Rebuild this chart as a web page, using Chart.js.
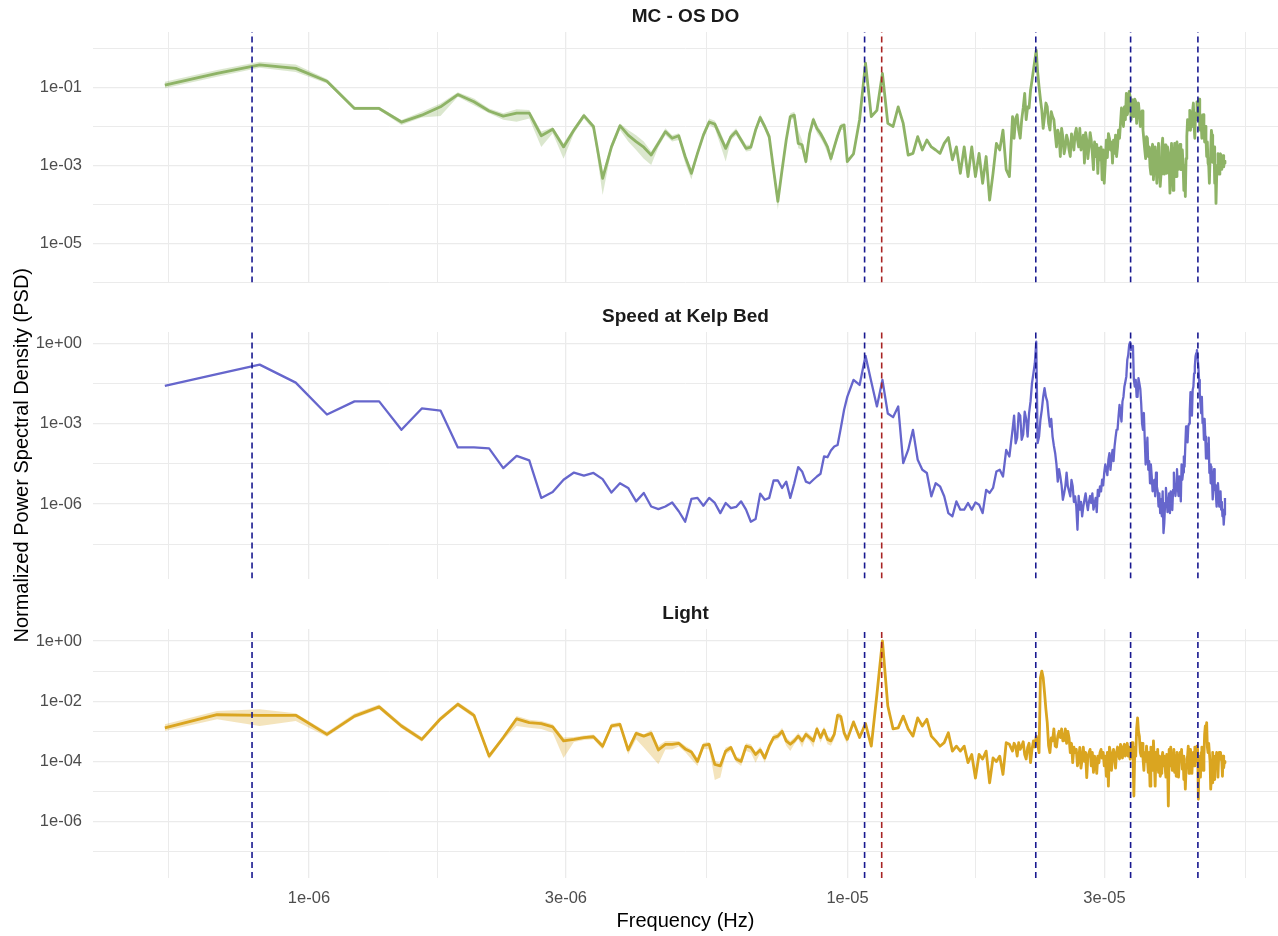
<!DOCTYPE html>
<html>
<head>
<meta charset="utf-8">
<title>Normalized PSD</title>
<script src="https://cdn.jsdelivr.net/npm/chart.js@4.4.1/dist/chart.umd.min.js"></script>
<style>
  html, body { margin: 0; padding: 0; background: #fff; }
  #wrap { position: relative; width: 1278px; height: 936px; }
  #wrap canvas { position: absolute; left: 0; top: 0; }
</style>
</head>
<body>
<div id="wrap">
  <canvas id="psd1" width="1278" height="936"></canvas>
  <canvas id="psd2" width="1278" height="936"></canvas>
  <canvas id="psd3" width="1278" height="936"></canvas>
</div>
<script>
"use strict";

// frequency grid shared by the three spectra (Hz)
const freq = [
  0.54e-6, 0.675e-6, 0.81e-6, 0.945e-6, 1.08e-6, 1.215e-6, 1.35e-6, 1.485e-6, 1.62e-6, 1.755e-6,
  1.89e-6, 2.025e-6, 2.16e-6, 2.295e-6, 2.43e-6, 2.565e-6, 2.7e-6, 2.835e-6, 2.97e-6, 3.105e-6,
  3.24e-6, 3.375e-6, 3.51e-6, 3.645e-6, 3.78e-6, 3.915e-6, 4.05e-6, 4.185e-6, 4.32e-6, 4.455e-6,
  4.59e-6, 4.725e-6, 4.86e-6, 4.995e-6, 5.13e-6, 5.265e-6, 5.4e-6, 5.535e-6, 5.67e-6, 5.805e-6,
  5.94e-6, 6.075e-6, 6.21e-6, 6.345e-6, 6.48e-6, 6.615e-6, 6.75e-6, 6.885e-6, 7.02e-6, 7.155e-6,
  7.29e-6, 7.425e-6, 7.56e-6, 7.695e-6, 7.83e-6, 7.965e-6, 8.1e-6, 8.235e-6, 8.37e-6, 8.505e-6,
  8.64e-6, 8.775e-6, 8.91e-6, 9.045e-6, 9.18e-6, 9.315e-6, 9.45e-6, 9.585e-6, 9.72e-6, 9.855e-6,
  9.99e-6,
  10.26e-6, 10.53e-6, 10.8e-6, 11.07e-6, 11.34e-6, 11.61e-6, 11.88e-6, 12.15e-6, 12.42e-6, 12.69e-6,
  12.96e-6, 13.23e-6, 13.5e-6, 13.77e-6, 14.04e-6, 14.31e-6, 14.58e-6, 14.85e-6, 15.12e-6, 15.39e-6,
  15.66e-6, 15.93e-6, 16.2e-6, 16.47e-6, 16.74e-6, 17.01e-6, 17.28e-6, 17.55e-6, 17.82e-6, 18.09e-6,
  18.36e-6, 18.63e-6, 18.9e-6, 19.17e-6, 19.44e-6, 19.71e-6, 19.98e-6,
  20.25e-6, 20.385e-6, 20.52e-6, 20.655e-6, 20.79e-6, 20.925e-6, 21.06e-6, 21.195e-6, 21.33e-6, 21.465e-6,
  21.6e-6, 21.735e-6, 21.87e-6, 22.005e-6, 22.14e-6, 22.275e-6, 22.41e-6, 22.545e-6, 22.68e-6, 22.815e-6,
  22.95e-6, 23.085e-6, 23.22e-6, 23.355e-6, 23.49e-6, 23.625e-6, 23.76e-6, 23.895e-6, 24.03e-6, 24.165e-6,
  24.3e-6, 24.435e-6, 24.57e-6, 24.705e-6, 24.84e-6, 24.975e-6, 25.11e-6, 25.245e-6, 25.38e-6, 25.515e-6,
  25.65e-6, 25.785e-6, 25.92e-6, 26.055e-6, 26.19e-6, 26.325e-6, 26.46e-6, 26.595e-6, 26.73e-6, 26.865e-6,
  27.0e-6, 27.135e-6, 27.27e-6, 27.405e-6, 27.54e-6, 27.675e-6, 27.81e-6, 27.945e-6, 28.08e-6, 28.215e-6,
  28.35e-6, 28.485e-6, 28.62e-6, 28.755e-6, 28.89e-6, 29.025e-6, 29.16e-6, 29.295e-6, 29.43e-6, 29.565e-6,
  29.7e-6, 29.835e-6, 29.97e-6, 30.105e-6, 30.24e-6, 30.375e-6, 30.51e-6, 30.645e-6, 30.78e-6, 30.915e-6,
  31.05e-6, 31.185e-6, 31.32e-6, 31.455e-6, 31.59e-6, 31.725e-6, 31.86e-6, 31.995e-6, 32.13e-6, 32.265e-6,
  32.4e-6, 32.535e-6, 32.67e-6, 32.805e-6, 32.94e-6, 33.075e-6, 33.21e-6, 33.345e-6, 33.48e-6, 33.615e-6,
  33.75e-6, 33.885e-6, 34.02e-6, 34.155e-6, 34.29e-6, 34.425e-6, 34.56e-6, 34.695e-6, 34.83e-6, 34.965e-6,
  35.1e-6, 35.235e-6, 35.37e-6, 35.505e-6, 35.64e-6, 35.775e-6, 35.91e-6, 36.045e-6, 36.18e-6, 36.315e-6,
  36.45e-6, 36.585e-6, 36.72e-6, 36.855e-6, 36.99e-6, 37.125e-6, 37.26e-6, 37.395e-6, 37.53e-6, 37.665e-6,
  37.8e-6, 37.935e-6, 38.07e-6, 38.205e-6, 38.34e-6, 38.475e-6, 38.61e-6, 38.745e-6, 38.88e-6, 39.015e-6,
  39.15e-6, 39.285e-6, 39.42e-6, 39.555e-6, 39.69e-6, 39.825e-6, 39.96e-6, 40.095e-6, 40.23e-6, 40.365e-6,
  40.5e-6, 40.635e-6, 40.77e-6, 40.905e-6, 41.04e-6, 41.175e-6, 41.31e-6, 41.445e-6, 41.58e-6, 41.715e-6,
  41.85e-6, 41.985e-6, 42.12e-6, 42.255e-6, 42.39e-6, 42.525e-6, 42.66e-6, 42.795e-6, 42.93e-6, 43.065e-6,
  43.2e-6, 43.335e-6, 43.47e-6, 43.605e-6, 43.74e-6, 43.875e-6, 44.01e-6, 44.145e-6, 44.28e-6, 44.415e-6,
  44.55e-6, 44.685e-6, 44.82e-6, 44.955e-6, 45.09e-6, 45.225e-6, 45.36e-6, 45.495e-6, 45.63e-6, 45.765e-6,
  45.9e-6, 46.035e-6, 46.17e-6, 46.305e-6, 46.44e-6, 46.575e-6, 46.71e-6, 46.845e-6, 46.98e-6, 47.115e-6,
  47.25e-6, 47.385e-6, 47.52e-6, 47.655e-6, 47.79e-6, 47.925e-6, 48.06e-6, 48.195e-6, 48.33e-6, 48.465e-6,
  48.6e-6, 48.735e-6, 48.87e-6, 49.005e-6, 49.14e-6, 49.275e-6, 49.41e-6, 49.545e-6, 49.68e-6, 49.815e-6,
  49.95e-6, 50.085e-6, 50.22e-6
];

// MC - OS dissolved oxygen
const doPsd = [
  1.15e-1, 2.3e-1, 3.8e-1, 3.1e-1, 1.45e-1, 2.9e-2, 2.9e-2, 1.3e-2, 1.95e-2, 3.2e-2,
  6.6e-2, 4.3e-2, 2.5e-2, 1.85e-2, 2.2e-2, 2.2e-2, 5.8e-3, 8.5e-3, 3.0e-3, 8.1e-3,
  1.9e-2, 1.0e-2, 4.7e-4, 3.0e-3, 1.05e-2, 6.0e-3, 4.1e-3, 2.95e-3, 1.85e-3, 3.7e-3,
  7.4e-3, 5.0e-3, 5.8e-3, 1.7e-3, 6.3e-4, 2.05e-3, 6.0e-3, 1.3e-2, 1.15e-2, 5.5e-3,
  2.75e-3, 5.5e-3, 7.4e-3, 4.5e-3, 2.75e-3, 2.95e-3, 8.1e-3, 1.7e-2, 1.0e-2, 5.5e-3,
  7.8e-4, 1.2e-4, 7.8e-4, 4.5e-3, 1.8e-2, 1.95e-2, 3.7e-3, 3.4e-3, 1.26e-3, 6.6e-3,
  1.5e-2, 8.9e-3, 6.6e-3, 4.5e-3, 3.0e-3, 1.5e-3, 3.0e-3, 5.8e-3, 1.0e-2, 1.1e-2,
  1.26e-3,
  2.0e-3, 1.5e-2, 4.2e-1, 1.8e-2, 2.6e-2, 2.3e-1, 1.2e-2, 1.0e-2, 3.2e-2, 1.2e-2,
  1.85e-3, 2.05e-3, 5.5e-3, 2.5e-3, 4.5e-3, 3.0e-3, 2.5e-3, 2.05e-3, 3.7e-3, 5.2e-3,
  1.4e-3, 3.0e-3, 6.3e-4, 3.0e-3, 5.2e-4, 3.0e-3, 5.2e-4, 2.05e-3, 3.5e-4, 1.7e-3,
  1.3e-4, 6.3e-4, 3.7e-3, 2.5e-3, 8.1e-3, 7.8e-4, 5.2e-4,
  1.8e-2, 5.0e-3, 1.6e-2, 2.0e-2, 8.1e-3, 5.0e-3, 1.5e-2, 3.0e-2, 7.1e-2, 1.5e-2,
  3.2e-2, 3.0e-2, 8.5e-2, 1.5e-1, 2.8e-1, 5.0e-1, 9.1e-1, 2.5e-1, 1.05e-1, 5.0e-2,
  2.6e-2, 9.0e-3, 1.8e-2, 4.0e-2, 3.2e-2, 1.2e-2, 8.1e-3, 2.4e-2, 1.8e-2, 1.5e-2,
  6.6e-3, 3.0e-3, 8.1e-3, 6.0e-3, 1.7e-3, 9.0e-3, 5.5e-3, 2.0e-3, 3.0e-3, 6.0e-3,
  4.5e-3, 2.5e-3, 1.7e-3, 6.5e-3, 4.5e-3, 2.5e-3, 6.6e-3, 9.0e-3, 4.5e-3, 3.0e-3,
  8.9e-3, 2.5e-3, 3.7e-3, 6.0e-3, 1.15e-3, 7.0e-3, 4.5e-3, 1.5e-3, 3.0e-3, 7.0e-3,
  4.5e-3, 2.0e-3, 7.8e-4, 4.0e-3, 1.7e-3, 3.5e-3, 6.3e-4, 2.8e-3, 1.4e-3, 3.0e-3,
  4.3e-4, 2.5e-3, 3.5e-4, 1.2e-3, 4.5e-3, 1.6e-3, 6.6e-3, 5.0e-3, 2.5e-3, 4.0e-3,
  1.15e-3, 4.5e-3, 2.05e-3, 6.0e-3, 1.7e-3, 3.0e-3, 8.1e-3, 5.0e-3, 1.2e-2, 3.0e-2,
  2.2e-2, 1.0e-2, 3.2e-2, 1.5e-2, 7.1e-2, 2.0e-2, 2.6e-2, 8.0e-2, 5.8e-2, 1.5e-2,
  4.8e-2, 2.5e-2, 1.8e-2, 5.0e-2, 4.3e-2, 1.2e-2, 2.6e-2, 4.0e-2, 2.2e-2, 1.0e-2,
  1.5e-2, 2.5e-2, 8.1e-3, 4.5e-3, 2.5e-3, 1.5e-3, 5.5e-3, 5.0e-3, 1.7e-3, 3.0e-3,
  9.3e-4, 6.0e-4, 2.5e-3, 3.5e-3, 4.3e-4, 1.5e-3, 3.0e-3, 1.0e-3, 3.5e-4, 1.5e-3,
  3.7e-3, 1.0e-3, 2.9e-4, 6.0e-4, 3.0e-3, 5.0e-3, 1.15e-3, 6.0e-4, 3.4e-3, 1.5e-3,
  6.3e-4, 3.0e-3, 2.05e-3, 1.2e-3, 1.95e-4, 1.5e-3, 3.7e-3, 8.0e-4, 2.3e-4, 1.5e-3,
  3.7e-3, 8.0e-4, 5.2e-4, 4.0e-3, 1.7e-3, 8.0e-4, 2.05e-3, 3.5e-3, 7.8e-4, 1.2e-3,
  2.5e-3, 1.0e-3, 2.3e-4, 8.0e-4, 1.6e-4, 1.5e-3, 5.5e-3, 1.5e-2, 8.1e-3, 1.2e-2,
  2.6e-2, 8.0e-3, 1.8e-2, 1.0e-2, 2.6e-2, 4.0e-2, 1.0e-2, 5.0e-3, 2.2e-2, 1.5e-2,
  4.3e-2, 1.5e-2, 3.2e-2, 5.0e-2, 8.1e-3, 2.0e-2, 1.2e-2, 5.0e-3, 1.5e-2, 2.0e-2,
  8.1e-3, 4.0e-3, 1.0e-2, 5.0e-3, 1.7e-3, 4.0e-3, 1.15e-3, 1.0e-3, 3.5e-4, 1.5e-3,
  2.5e-3, 8.0e-3, 6.0e-3, 1.2e-3, 1.7e-3, 3.0e-3, 3.5e-4, 1.0e-3, 1.07e-4, 5.0e-4,
  7.8e-4, 2.0e-3, 1.15e-3, 6.0e-4, 1.5e-3, 2.0e-3, 1.26e-3, 8.0e-4, 1.4e-3, 1.8e-3,
  9.3e-4, 1.3e-3, 1.15e-3
];

// current speed at the kelp bed
const speedPsd = [
  2.6e-2, 7.1e-2, 1.6e-1, 3.4e-2, 2.2e-3, 6.8e-3, 6.8e-3, 5.9e-4, 3.7e-3, 3.1e-3,
  1.3e-4, 1.3e-4, 1.2e-4, 2.2e-5, 6.3e-5, 4.3e-5, 1.7e-6, 2.8e-6, 8.1e-6, 1.5e-5,
  1.15e-5, 1.45e-5, 8.5e-6, 2.7e-6, 6.0e-6, 4.0e-6, 1.26e-6, 2.6e-6, 8.1e-7, 6.5e-7,
  8.1e-7, 1.15e-6, 5.4e-7, 2.2e-7, 1.55e-6, 1.7e-6, 8.7e-7, 1.7e-6, 1.1e-6, 4.6e-7,
  1.1e-6, 7.1e-7, 7.8e-7, 1.26e-6, 6.2e-7, 2.2e-7, 2.75e-7, 2.45e-6, 1.45e-6, 1.7e-6,
  7.6e-6, 7.6e-6, 4.0e-6, 6.9e-6, 1.7e-6, 6.0e-6, 2.4e-5, 1.65e-5, 6.9e-6, 6.0e-6,
  8.1e-6, 1.07e-5, 1.35e-5, 6.0e-5, 5.6e-5, 1.0e-4, 1.4e-4, 1.6e-4, 7.0e-4, 3.3e-3,
  1.0e-2,
  4.3e-2, 2.8e-2, 3.4e-1, 3.7e-2, 4.4e-3, 4.3e-2, 2.4e-3, 1.75e-3, 4.4e-3, 3.4e-5,
  1.05e-4, 5.9e-4, 4.5e-5, 1.9e-5, 1.45e-5, 1.95e-6, 6.0e-6, 4.6e-6, 1.95e-6, 4.6e-7,
  3.5e-7, 1.26e-6, 6.2e-7, 6.2e-7, 1.1e-6, 6.2e-7, 1.15e-6, 9.5e-7, 4.6e-7, 3.4e-6,
  2.6e-6, 4.0e-6, 1.65e-5, 1.9e-5, 1.07e-5, 1.05e-4, 6.0e-5,
  5.9e-4, 2.0e-3, 1.85e-4, 3.0e-4, 2.45e-3, 2.0e-3, 2.5e-4, 4.0e-4, 2.8e-3, 1.5e-3,
  3.3e-4, 2.5e-3, 6.8e-3, 3.2e-2, 7.6e-2, 1.8e-1, 1.15e0, 1.9e-4, 3.3e-4, 1.4e-3,
  3.3e-3, 1.0e-2, 2.1e-2, 1.0e-2, 6.8e-3, 2.0e-3, 7.8e-4, 1.5e-3, 3.3e-4, 1.5e-4,
  7.9e-5, 3.0e-5, 6.9e-6, 2.0e-5, 1.07e-5, 5.0e-6, 1.45e-6, 2.5e-6, 4.6e-6, 1.5e-5,
  4.6e-6, 3.0e-6, 1.95e-6, 8.0e-6, 4.6e-6, 1.2e-6, 1.95e-6, 8.0e-7, 1.1e-7, 2.0e-6,
  6.2e-7, 1.2e-6, 3.5e-7, 8.0e-7, 1.45e-6, 2.5e-6, 1.1e-6, 6.0e-7, 1.26e-6, 2.0e-6,
  1.1e-6, 2.5e-6, 6.2e-7, 1.0e-6, 1.7e-6, 5.0e-7, 3.4e-6, 2.0e-6, 4.6e-6, 3.0e-6,
  8.1e-6, 5.0e-6, 1.45e-5, 3.0e-5, 1.9e-5, 1.2e-5, 4.5e-5, 8.0e-5, 1.9e-5, 5.0e-5,
  1.05e-4, 4.0e-5, 1.4e-4, 3.0e-4, 5.9e-4, 6.0e-4, 1.85e-3, 5.0e-3, 2.45e-3, 1.2e-3,
  6.8e-3, 1.0e-2, 2.45e-2, 3.7e-2, 5.8e-2, 2.4e-1, 3.7e-1, 8.7e-1, 1.1e0, 5.6e-1,
  7.6e-1, 8.0e-1, 4.3e-2, 2.4e-2, 4.3e-2, 1.0e-2, 1.0e-2, 5.0e-2, 3.2e-2, 2.0e-2,
  5.8e-3, 1.0e-3, 5.9e-4, 2.5e-3, 2.5e-4, 3.0e-5, 7.9e-5, 3.0e-4, 1.9e-5, 4.0e-5,
  6.0e-6, 3.0e-5, 1.07e-5, 3.0e-6, 4.6e-6, 8.0e-6, 1.95e-6, 1.5e-5, 4.6e-6, 3.0e-6,
  8.1e-7, 2.5e-6, 4.6e-7, 1.5e-6, 3.5e-7, 3.0e-6, 8.3e-8, 2.0e-7, 1.1e-6, 4.0e-6,
  1.45e-6, 5.0e-7, 8.1e-7, 2.5e-6, 4.6e-7, 3.0e-6, 1.45e-6, 6.0e-7, 3.4e-6, 1.5e-5,
  6.0e-6, 2.0e-6, 4.6e-6, 2.0e-5, 4.6e-6, 2.0e-6, 1.07e-5, 4.0e-6, 1.26e-6, 3.0e-5,
  8.1e-6, 1.5e-5, 6.0e-5, 2.5e-5, 1.6e-4, 8.0e-4, 3.3e-4, 2.0e-4, 7.8e-4, 1.0e-3,
  2.8e-3, 1.5e-2, 5.8e-3, 2.0e-3, 1.8e-2, 2.4e-2, 7.6e-2, 1.35e-1, 3.2e-1, 4.3e-1,
  5.6e-1, 2.8e-1, 1.35e-1, 4.3e-2, 1.4e-2, 5.8e-3, 2.45e-3, 1.0e-2, 1.05e-3, 1.5e-3,
  2.5e-4, 1.5e-3, 3.3e-4, 5.0e-5, 1.6e-4, 5.0e-5, 1.85e-4, 3.0e-4, 1.45e-5, 3.0e-5,
  6.0e-6, 2.5e-5, 8.1e-6, 1.5e-6, 4.6e-6, 2.0e-5, 3.4e-6, 5.0e-6, 1.95e-6, 8.0e-7,
  3.4e-6, 6.0e-6, 2.6e-6, 8.0e-7, 1.95e-6, 3.0e-6, 6.2e-7, 1.2e-6, 3.5e-7, 6.0e-7,
  1.7e-7, 4.0e-7, 1.7e-6
];

// light
const lightPsd = [
  1.3e-3, 3.55e-3, 3.4e-3, 3.4e-3, 7.9e-4, 3.2e-3, 6.5e-3, 1.5e-3, 5.4e-4, 2.6e-3,
  7.9e-3, 3.4e-3, 1.5e-4, 6.2e-4, 2.6e-3, 1.95e-3, 1.8e-3, 1.4e-3, 4.8e-4, 5.4e-4,
  6.2e-4, 6.6e-4, 3.2e-4, 1.5e-3, 1.7e-3, 2.4e-4, 8.5e-4, 6.9e-4, 8.5e-4, 2.4e-4,
  3.7e-4, 3.7e-4, 4.0e-4, 2.6e-4, 2.05e-4, 1.0e-4, 3.4e-4, 3.7e-4, 7.9e-5, 7.1e-5,
  2.2e-4, 2.9e-4, 1.2e-4, 1.0e-4, 3.2e-4, 2.9e-4, 1.7e-4, 2.4e-4, 1.3e-4, 3.2e-4,
  6.2e-4, 6.9e-4, 1.0e-3, 4.8e-4, 3.7e-4, 4.8e-4, 6.9e-4, 4.8e-4, 7.9e-4, 6.2e-4,
  4.8e-4, 1.2e-3, 6.2e-4, 1.1e-3, 5.4e-4, 4.8e-4, 7.9e-4, 3.4e-3, 3.1e-3, 8.9e-4,
  5.4e-4,
  2.05e-3, 6.2e-4, 1.8e-3, 3.2e-4, 1.7e-2, 1.0e0, 6.9e-3, 1.2e-3, 1.3e-3, 3.2e-3,
  1.2e-3, 6.9e-4, 2.8e-3, 1.5e-3, 2.5e-3, 6.9e-4, 4.8e-4, 3.2e-4, 4.2e-4, 8.9e-4,
  2.2e-4, 3.2e-4, 2.2e-4, 3.2e-4, 9.1e-5, 1.7e-4, 2.8e-5, 1.7e-4, 1.2e-4, 2.2e-4,
  1.95e-5, 1.3e-4, 1.0e-4, 1.5e-4, 3.7e-5, 4.2e-4, 3.7e-4,
  2.2e-4, 4.0e-4, 3.2e-4, 1.5e-4, 4.2e-4, 2.5e-4, 3.2e-4, 4.5e-4, 1.7e-4, 1.2e-4,
  2.9e-4, 4.0e-4, 9.1e-5, 2.5e-4, 4.8e-4, 3.0e-4, 6.9e-4, 4.0e-4, 1.95e-4, 6.0e-2,
  1.0e-1, 6.0e-2, 1.9e-2, 5.4e-3, 1.95e-3, 3.3e-4, 1.95e-4, 6.0e-4, 4.8e-4, 1.2e-3,
  3.2e-4, 3.0e-4, 6.9e-4, 1.0e-3, 6.2e-4, 1.2e-3, 4.8e-4, 5.0e-4, 1.2e-3, 4.0e-4,
  1.0e-3, 6.0e-4, 1.95e-4, 4.0e-4, 9.1e-5, 3.0e-4, 1.95e-4, 2.5e-4, 7.1e-5, 1.2e-4,
  2.9e-4, 6.0e-5, 1.2e-4, 3.0e-4, 1.0e-4, 2.0e-4, 2.9e-5, 1.5e-4, 1.95e-4, 2.5e-4,
  7.1e-5, 2.0e-4, 4.3e-5, 1.5e-4, 1.0e-4, 4.0e-5, 1.5e-4, 9.0e-5, 1.95e-4, 2.5e-4,
  1.3e-4, 2.0e-4, 7.1e-5, 1.5e-4, 3.2e-5, 2.0e-4, 1.5e-5, 3.0e-4, 1.95e-4, 5.0e-5,
  1.3e-4, 2.5e-4, 1.5e-4, 6.0e-5, 1.95e-4, 3.0e-4, 1.7e-4, 1.2e-4, 3.7e-4, 2.5e-4,
  1.3e-4, 3.0e-4, 3.7e-4, 1.5e-4, 2.2e-4, 4.0e-4, 1.5e-4, 3.0e-4, 1.2e-4, 2.5e-4,
  4.2e-4, 2.0e-4, 7.1e-6, 3.0e-4, 1.5e-4, 1.2e-3, 2.8e-3, 1.0e-3, 6.9e-4, 2.0e-4,
  1.5e-4, 4.0e-4, 1.3e-4, 5.0e-5, 1.95e-4, 1.0e-4, 3.2e-4, 1.2e-4, 4.3e-5, 2.0e-4,
  1.5e-5, 3.0e-4, 1.95e-4, 5.0e-5, 4.8e-4, 1.0e-4, 1.5e-5, 2.0e-4, 5.5e-5, 2.5e-4,
  4.3e-5, 1.5e-4, 3.2e-5, 4.0e-5, 1.3e-4, 2.0e-4, 7.1e-5, 1.5e-4, 6.2e-5, 3.0e-5,
  1.7e-4, 1.0e-4, 3.3e-6, 2.5e-4, 7.1e-5, 3.0e-4, 1.2e-4, 5.0e-5, 1.7e-4, 2.5e-4,
  4.3e-5, 1.5e-4, 3.2e-5, 2.0e-4, 5.5e-5, 3.0e-5, 1.0e-4, 2.0e-4, 1.2e-4, 2.5e-4,
  5.5e-5, 1.5e-4, 2.5e-5, 8.0e-5, 1.2e-5, 6.0e-5, 1.2e-4, 1.5e-4, 3.2e-4, 4.0e-5,
  1.2e-4, 2.5e-4, 1.3e-4, 4.0e-5, 1.5e-4, 2.0e-4, 7.1e-5, 3.0e-4, 1.95e-4, 1.0e-4,
  3.2e-4, 2.5e-4, 5.5e-6, 1.5e-4, 1.5e-4, 3.0e-5, 1.95e-4, 3.0e-4, 1.3e-4, 5.0e-5,
  1.5e-4, 8.0e-4, 1.5e-3, 1.2e-3, 1.95e-3, 3.0e-4, 1.95e-4, 4.0e-4, 1.95e-4, 1.0e-4,
  1.2e-5, 3.0e-5, 1.95e-5, 2.0e-4, 5.5e-5, 2.5e-5, 1.2e-4, 1.5e-4, 1.2e-4, 2.0e-4,
  7.1e-5, 3.0e-5, 1.2e-4, 2.0e-4, 1.3e-4, 2.0e-4, 1.2e-4, 1.0e-4, 3.2e-5, 1.5e-4,
  6.2e-5, 1.0e-4, 9.1e-5
];

// confidence band over the low-frequency end (first 71 grid points)
const doLow = [
  9.5e-2, 1.9e-1, 3.2e-1, 2.5e-1, 1.27e-1, 2.65e-2, 2.65e-2, 1.09e-2, 1.7e-2, 1.85e-2,
  5.8e-2, 3.5e-2, 2.2e-2, 1.5e-2, 1.33e-2, 1.6e-2, 3.0e-3, 6.7e-3, 1.5e-3, 6.7e-3,
  1.6e-2, 8.1e-3, 1.76e-4, 2.5e-3, 8.1e-3, 4.1e-3, 2.5e-3, 1.5e-3, 1.03e-3, 3.0e-3,
  6.0e-3, 4.1e-3, 4.5e-3, 1.14e-3, 4.4e-4, 1.7e-3, 5.0e-3, 1.09e-2, 9.0e-3, 3.4e-3,
  1.26e-3, 4.5e-3, 6.0e-3, 3.7e-3, 2.3e-3, 2.4e-3, 6.7e-3, 1.4e-2, 8.1e-3, 4.1e-3,
  5.2e-4, 7.3e-5, 6.3e-4, 3.6e-3, 1.47e-2, 1.6e-2, 2.75e-3, 2.5e-3, 1.03e-3, 5.5e-3,
  1.2e-2, 6.7e-3, 5.0e-3, 3.4e-3, 2.05e-3, 1.14e-3, 2.4e-3, 4.5e-3, 8.1e-3, 8.1e-3,
  6.3e-4
];
const doHigh = [
  1.4e-1, 2.8e-1, 4.6e-1, 3.9e-1, 1.65e-1, 3.2e-2, 3.2e-2, 1.47e-2, 2.4e-2, 3.9e-2,
  7.6e-2, 5.2e-2, 2.9e-2, 2.2e-2, 2.75e-2, 2.65e-2, 7.4e-3, 9.5e-3, 3.7e-3, 9.5e-3,
  2.2e-2, 1.09e-2, 6.3e-4, 3.7e-3, 1.2e-2, 8.1e-3, 6.0e-3, 4.1e-3, 2.3e-3, 4.5e-3,
  9.0e-3, 6.0e-3, 6.7e-3, 2.05e-3, 7.7e-4, 2.5e-3, 7.4e-3, 1.6e-2, 1.4e-2, 7.4e-3,
  3.4e-3, 6.7e-3, 9.0e-3, 5.5e-3, 3.4e-3, 3.4e-3, 9.9e-3, 2.1e-2, 1.2e-2, 6.7e-3,
  9.4e-4, 1.6e-4, 1.03e-3, 5.7e-3, 2.2e-2, 2.4e-2, 8.1e-3, 4.5e-3, 1.5e-3, 8.1e-3,
  1.8e-2, 1.09e-2, 8.1e-3, 5.5e-3, 3.7e-3, 1.86e-3, 3.7e-3, 6.9e-3, 1.2e-2, 1.2e-2,
  1.7e-3
];
const lightLow = [
  1.02e-3, 2.5e-3, 1.5e-3, 2.2e-3, 6.6e-4, 2.7e-3, 5.4e-3, 1.26e-3, 4.5e-4, 2.2e-3,
  6.6e-3, 2.8e-3, 1.17e-4, 5.1e-4, 1.5e-3, 1.3e-3, 1.2e-3, 9.0e-4, 1.3e-4, 4.4e-4,
  5.1e-4, 5.4e-4, 2.5e-4, 1.26e-3, 1.4e-3, 1.7e-4, 5.4e-4, 2.9e-4, 1.5e-4, 8.0e-5,
  2.5e-4, 2.5e-4, 3.1e-4, 2.05e-4, 1.17e-4, 7.0e-5, 2.65e-4, 2.5e-4, 2.4e-5, 2.9e-5,
  1.7e-4, 2.2e-4, 9.5e-5, 7.0e-5, 2.2e-4, 1.95e-4, 9.1e-5, 1.9e-4, 9.1e-5, 2.5e-4,
  4.8e-4, 5.4e-4, 7.9e-4, 3.3e-4, 2.2e-4, 3.7e-4, 5.4e-4, 2.9e-4, 6.2e-4, 4.8e-4,
  2.9e-4, 9.0e-4, 4.2e-4, 7.9e-4, 3.7e-4, 3.3e-4, 5.4e-4, 2.5e-3, 2.2e-3, 6.2e-4,
  3.7e-4
];
const lightHigh = [
  1.7e-3, 4.7e-3, 5.4e-3, 4.0e-3, 9.5e-4, 3.9e-3, 7.7e-3, 1.8e-3, 6.5e-4, 3.1e-3,
  9.4e-3, 4.1e-3, 1.8e-4, 7.3e-4, 3.2e-3, 2.4e-3, 2.2e-3, 1.7e-3, 6.2e-4, 6.5e-4,
  7.3e-4, 7.9e-4, 4.0e-4, 1.8e-3, 2.0e-3, 2.9e-4, 1.02e-3, 7.9e-4, 1.1e-3, 3.3e-4,
  4.8e-4, 4.8e-4, 4.8e-4, 3.3e-4, 2.5e-4, 1.3e-4, 4.2e-4, 4.4e-4, 1.03e-4, 9.1e-5,
  2.9e-4, 3.4e-4, 1.43e-4, 1.3e-4, 4.0e-4, 3.7e-4, 2.05e-4, 3.1e-4, 1.7e-4, 4.2e-4,
  7.9e-4, 9.0e-4, 1.3e-3, 6.2e-4, 4.8e-4, 6.2e-4, 9.0e-4, 6.2e-4, 1.02e-3, 7.9e-4,
  6.2e-4, 1.5e-3, 7.9e-4, 1.45e-3, 7.0e-4, 6.2e-4, 1.02e-3, 4.2e-3, 4.0e-3, 1.16e-3,
  7.0e-4
];

// reference frequencies (Hz): MSf, O1, M2, M3, M4 and the 24 h solar day
const tidalFreqs = [7.84e-7, 1.0758e-5, 2.2365e-5, 3.3548e-5, 4.4731e-5];
const solarFreqs = [1.1574e-5];

// tick positions; empty label = minor grid line
const xTickValues = [5.477e-7, 1e-6, 1.732e-6, 3e-6, 5.477e-6, 1e-5, 1.732e-5, 3e-5, 5.477e-5];
const xTickLabels = ['', '1e-06', '', '3e-06', '', '1e-05', '', '3e-05', ''];
const doTickValues = [1e-6, 1e-5, 1e-4, 1e-3, 1e-2, 1e-1, 1];
const doTickLabels = ['', '1e-05', '', '1e-03', '', '1e-01', ''];
const speedTickValues = [3.162e-8, 1e-6, 3.162e-5, 1e-3, 3.162e-2, 1];
const speedTickLabels = ['', '1e-06', '', '1e-03', '', '1e+00'];
const lightTickValues = [1e-7, 1e-6, 1e-5, 1e-4, 1e-3, 1e-2, 1e-1, 1];
const lightTickLabels = ['', '1e-06', '', '1e-04', '', '1e-02', '', '1e+00'];

Chart.defaults.font.family = "'Liberation Sans', Arial, sans-serif";

const GRID = '#EBEBEB';
const X_MIN = 3.972e-7;
const X_MAX = 6.30e-5;

const panels = [
  { canvas: 'psd1', title: 'MC - OS DO', values: doPsd, low: doLow, high: doHigh,
    color: '#8EB366', band: 'rgba(142,179,102,0.32)', lineWidth: 2.8,
    yMin: 1e-6, yMax: 2.65, ticks: doTickValues, labels: doTickLabels,
    padTop: 0, padBottom: 653.5, bottomAxis: false, yTitle: false },
  { canvas: 'psd2', title: 'Speed at Kelp Bed', values: speedPsd, low: null, high: null,
    color: '#6666CC', band: null, lineWidth: 2.3,
    yMin: 1.67e-9, yMax: 2.64, ticks: speedTickValues, labels: speedTickLabels,
    padTop: 300, padBottom: 357.5, bottomAxis: false, yTitle: true },
  { canvas: 'psd3', title: 'Light', values: lightPsd, low: lightLow, high: lightHigh,
    color: '#DAA520', band: 'rgba(218,165,32,0.3)', lineWidth: 2.8,
    yMin: 1.34e-8, yMax: 2.5, ticks: lightTickValues, labels: lightTickLabels,
    padTop: 597, padBottom: 0, bottomAxis: true, yTitle: false }
];

function points(xs, ys) {
  return ys.map((y, i) => ({ x: xs[i], y: y }));
}

function refLine(f, p, color) {
  return {
    data: [{ x: f, y: p.yMin }, { x: f, y: p.yMax }],
    borderColor: color,
    borderWidth: 1.6,
    borderDash: [6, 4],
    pointRadius: 0,
    order: 0
  };
}

function gridWidth(labels) {
  return (ctx) => (labels[ctx.index] ? 1.3 : 1.0);
}

function drawPanel(p) {
  const datasets = [];
  tidalFreqs.forEach(f => datasets.push(refLine(f, p, '#18188F')));
  solarFreqs.forEach(f => datasets.push(refLine(f, p, '#A82424')));

  datasets.push({
    label: p.title,
    data: points(freq, p.values),
    borderColor: p.color,
    borderWidth: p.lineWidth,
    borderJoinStyle: 'round',
    pointRadius: 0,
    order: 1
  });

  if (p.low) {
    datasets.push({ data: points(freq, p.low), borderWidth: 0, pointRadius: 0, fill: false, order: 2 });
    datasets.push({ data: points(freq, p.high), borderWidth: 0, pointRadius: 0,
      fill: '-1', backgroundColor: p.band, order: 2 });
  }

  datasets.forEach(d => { d.xAxisID = 'x'; d.yAxisID = 'y'; d.tension = 0; });

  const tickFont = { size: 16.5 };

  return new Chart(document.getElementById(p.canvas), {
    type: 'line',
    data: { datasets: datasets },
    options: {
      responsive: false,
      animation: false,
      devicePixelRatio: 1,
      events: [],
      layout: { padding: { top: p.padTop, bottom: p.padBottom, left: 0, right: 0 } },
      plugins: { legend: { display: false }, tooltip: { enabled: false } },
      scales: {
        x: {
          type: 'logarithmic', position: 'bottom', bounds: 'data',
          min: X_MIN, max: X_MAX,
          afterBuildTicks: (s) => { s.ticks = xTickValues.map(v => ({ value: v })); },
          afterFit: (s) => { s.height = p.bottomAxis ? 58 : 0; },
          grid: { color: GRID, lineWidth: gridWidth(xTickLabels), drawTicks: false },
          border: { display: false },
          ticks: {
            display: p.bottomAxis, autoSkip: false, maxRotation: 0, minRotation: 0,
            padding: 11, color: '#4D4D4D', font: tickFont,
            callback: (v, i) => xTickLabels[i]
          },
          title: {
            display: p.bottomAxis, text: 'Frequency (Hz)', color: '#000',
            font: { size: 20 }, padding: { top: 0, bottom: 3 }
          }
        },
        y: {
          type: 'logarithmic', position: 'left', bounds: 'data',
          min: p.yMin, max: p.yMax,
          afterBuildTicks: (s) => { s.ticks = p.ticks.map(v => ({ value: v })); },
          afterFit: (s) => { s.width = 93; },
          grid: { color: GRID, lineWidth: gridWidth(p.labels), drawTicks: false },
          border: { display: false },
          ticks: {
            autoSkip: false, padding: 11, color: '#4D4D4D', font: tickFont,
            callback: (v, i) => p.labels[i]
          },
          title: {
            display: p.yTitle, text: 'Normalized Power Spectral Density (PSD)', color: '#000',
            font: { size: 20 }, padding: { top: 10, bottom: 0 }
          }
        },
        // facet strip label, centred over the panel
        strip: {
          axis: 'x', type: 'linear', position: 'top', min: 0, max: 1,
          grid: { display: false, drawTicks: false },
          border: { display: false },
          ticks: { display: false },
          title: {
            display: true, text: p.title, color: '#1A1A1A',
            font: { size: 19, weight: 'bold' }, padding: { top: 5.6, bottom: 3.6 }
          }
        }
      }
    }
  });
}

panels.forEach(drawPanel);
</script>
</body>
</html>
